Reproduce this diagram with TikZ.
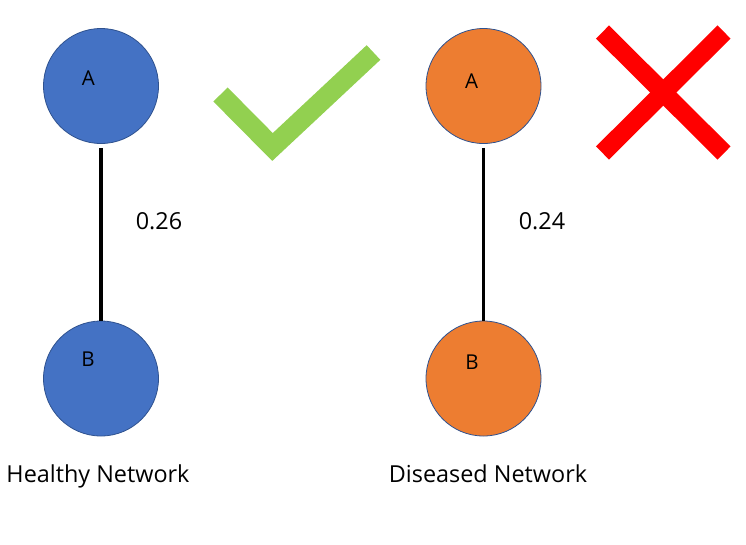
\documentclass[tikz,border=0pt]{standalone}
\usepackage{fontspec}
\setmainfont{Open Sans}
\definecolor{nodeblue}{HTML}{4472C4}
\definecolor{nodeorange}{HTML}{ED7D31}
\definecolor{rimblue}{HTML}{2F528F}
\definecolor{checkgreen}{HTML}{92D050}
\definecolor{crossred}{HTML}{FF0000}
\begin{document}
\begin{tikzpicture}[x=1pt,y=-1pt,
  netnode/.style={circle, minimum size=115pt, inner sep=0pt, draw=rimblue, line width=0.8pt},
  nodelabel/.style={anchor=base, inner sep=0pt, font=\fontsize{20.5}{24}\selectfont},
  plaintext/.style={anchor=base, inner sep=0pt, font=\fontsize{23.4}{28}\selectfont},
  link/.style={line width=3.5pt, black}]
\useasboundingbox (0,0) rectangle (746,544);
% healthy
\node[netnode, fill=nodeblue] (hA) at (101,86) {};
\node[netnode, fill=nodeblue] (hB) at (101,378.5) {};
\node[nodelabel] (hAl) at (88.3,85) {A};
\node[nodelabel] (hBl) at (88,366.7) {B};
\draw[link] ([yshift=-4pt]hA.south) -- (hB.north);
\node[plaintext] (hw) at (159,229) {0.26};
\node[plaintext] (ht) at (98,482.3) {Healthy Network};
% diseased
\node[netnode, fill=nodeorange] (dA) at (483.5,86) {};
\node[netnode, fill=nodeorange] (dB) at (483.5,378.5) {};
\node[nodelabel] (dAl) at (471.5,88.3) {A};
\node[nodelabel] (dBl) at (472,369) {B};
\draw[link] ([yshift=-4pt]dA.south) -- (dB.north);
\node[plaintext] (dw) at (542,229) {0.24};
\node[plaintext] (dt) at (488,482.3) {Diseased Network};
% check mark
\draw[checkgreen, line width=20pt, line join=miter] (220.5,94.5) -- (272.5,147) -- (373.5,52.5);
% cross
\draw[crossred, line width=18.5pt] (602.5,32) -- (724,153);
\draw[crossred, line width=18.5pt] (724,32) -- (602.5,153);
\end{tikzpicture}
\end{document}
